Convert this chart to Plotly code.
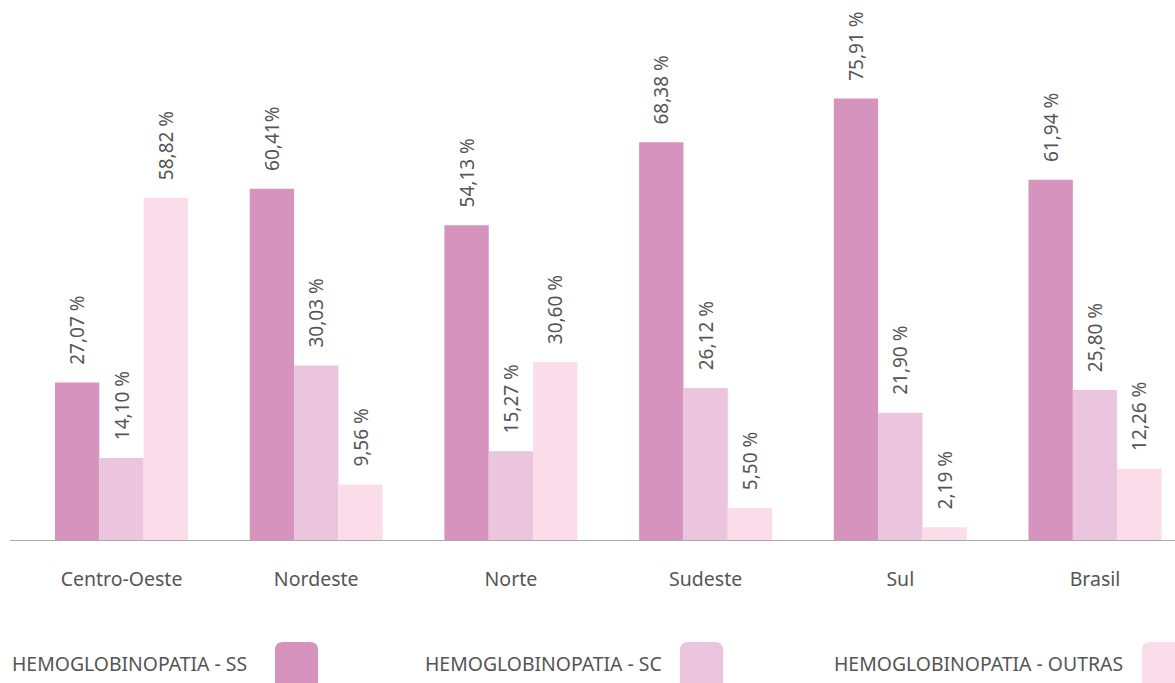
import plotly.graph_objects as go

categories = ["Centro-Oeste", "Nordeste", "Norte", "Sudeste", "Sul", "Brasil"]
ss_values = [27.07, 60.41, 54.13, 68.38, 75.91, 61.94]
sc_values = [14.10, 30.03, 15.27, 26.12, 21.90, 25.80]
outras_values = [58.82, 9.56, 30.60, 5.50, 2.19, 12.26]
ss_labels = ["27,07 %", "60,41%", "54,13 %", "68,38 %", "75,91 %", "61,94 %"]
sc_labels = ["14,10 %", "30,03 %", "15,27 %", "26,12 %", "21,90 %", "25,80 %"]
outras_labels = ["58,82 %", "9,56 %", "30,60 %", "5,50 %", "2,19 %", "12,26 %"]
series_names = ["HEMOGLOBINOPATIA - SS", "HEMOGLOBINOPATIA - SC", "HEMOGLOBINOPATIA - OUTRAS"]
colors = ["#D593BE", "#EAC5DD", "#FBDDE9"]

W, H = 1175, 683
L, T, PH = 10, 0, 540
PW = W - L

FONT = "Noto Sans"
TXT = "#555555"
PAD = "\u00a0\u00a0\u00a0"

fig = go.Figure()
for vals, labs, name, col in zip([ss_values, sc_values, outras_values],
                                 [ss_labels, sc_labels, outras_labels],
                                 series_names, colors):
    fig.add_trace(go.Bar(
        x=categories, y=vals, name=name, marker_color=col, marker_line_width=0,
        text=[PAD + s for s in labs], textposition="outside", textangle=-90,
        constraintext="none",
        textfont=dict(family=FONT, size=19, color=TXT),
        cliponaxis=False, showlegend=False, hoverinfo="skip",
    ))

def xp(px):
    return (px - L) / PW

def yp(py):
    return (T + PH - py) / PH

def rounded_rect(x0, y0, x1, y1, r):
    X = lambda v: xp(v)
    Y = lambda v: yp(v)
    return (f"M {X(x0+r)},{Y(y0)} L {X(x1-r)},{Y(y0)} Q {X(x1)},{Y(y0)} {X(x1)},{Y(y0+r)} "
            f"L {X(x1)},{Y(y1-r)} Q {X(x1)},{Y(y1)} {X(x1-r)},{Y(y1)} "
            f"L {X(x0+r)},{Y(y1)} Q {X(x0)},{Y(y1)} {X(x0)},{Y(y1-r)} "
            f"L {X(x0)},{Y(y0+r)} Q {X(x0)},{Y(y0)} {X(x0+r)},{Y(y0)} Z")

legend_text_x = [10, 423, 832]
swatch_x = [275, 680, 1142]
shapes = []
annotations = []
for name, col, tx, sx in zip(series_names, colors, legend_text_x, swatch_x):
    annotations.append(dict(
        x=xp(tx), y=yp(663), xref="paper", yref="paper", text=name,
        showarrow=False, xanchor="left", yanchor="middle",
        font=dict(family=FONT, size=19.4, color=TXT),
    ))
    shapes.append(dict(
        type="path", xref="paper", yref="paper",
        path=rounded_rect(sx, 642, sx + 43, 692, 8),
        fillcolor=col, line=dict(width=0), layer="above",
    ))

unit = 194.7
left_units = (121.5 - L) / unit
fig.update_layout(
    width=W, height=H,
    margin=dict(l=L, r=0, t=T, b=H - PH - T, autoexpand=False),
    paper_bgcolor="white", plot_bgcolor="white",
    barmode="group", bargap=0.317, bargroupgap=0,
    shapes=shapes, annotations=annotations,
    showlegend=False,
    font=dict(family=FONT, color=TXT),
)
fig.update_xaxes(
    range=[-left_units, -left_units + PW / unit],
    showline=True, linecolor="#AAAAAA", linewidth=1,
    ticks="", showgrid=False,
    tickfont=dict(family=FONT, size=19.5, color=TXT),
    ticklabelstandoff=22,
)
fig.update_yaxes(range=[0, PH / 5.815], visible=False, showgrid=False)

fig.write_html("out.html", config={"displayModeBar": False},
               post_script="document.body.style.margin='0';")
